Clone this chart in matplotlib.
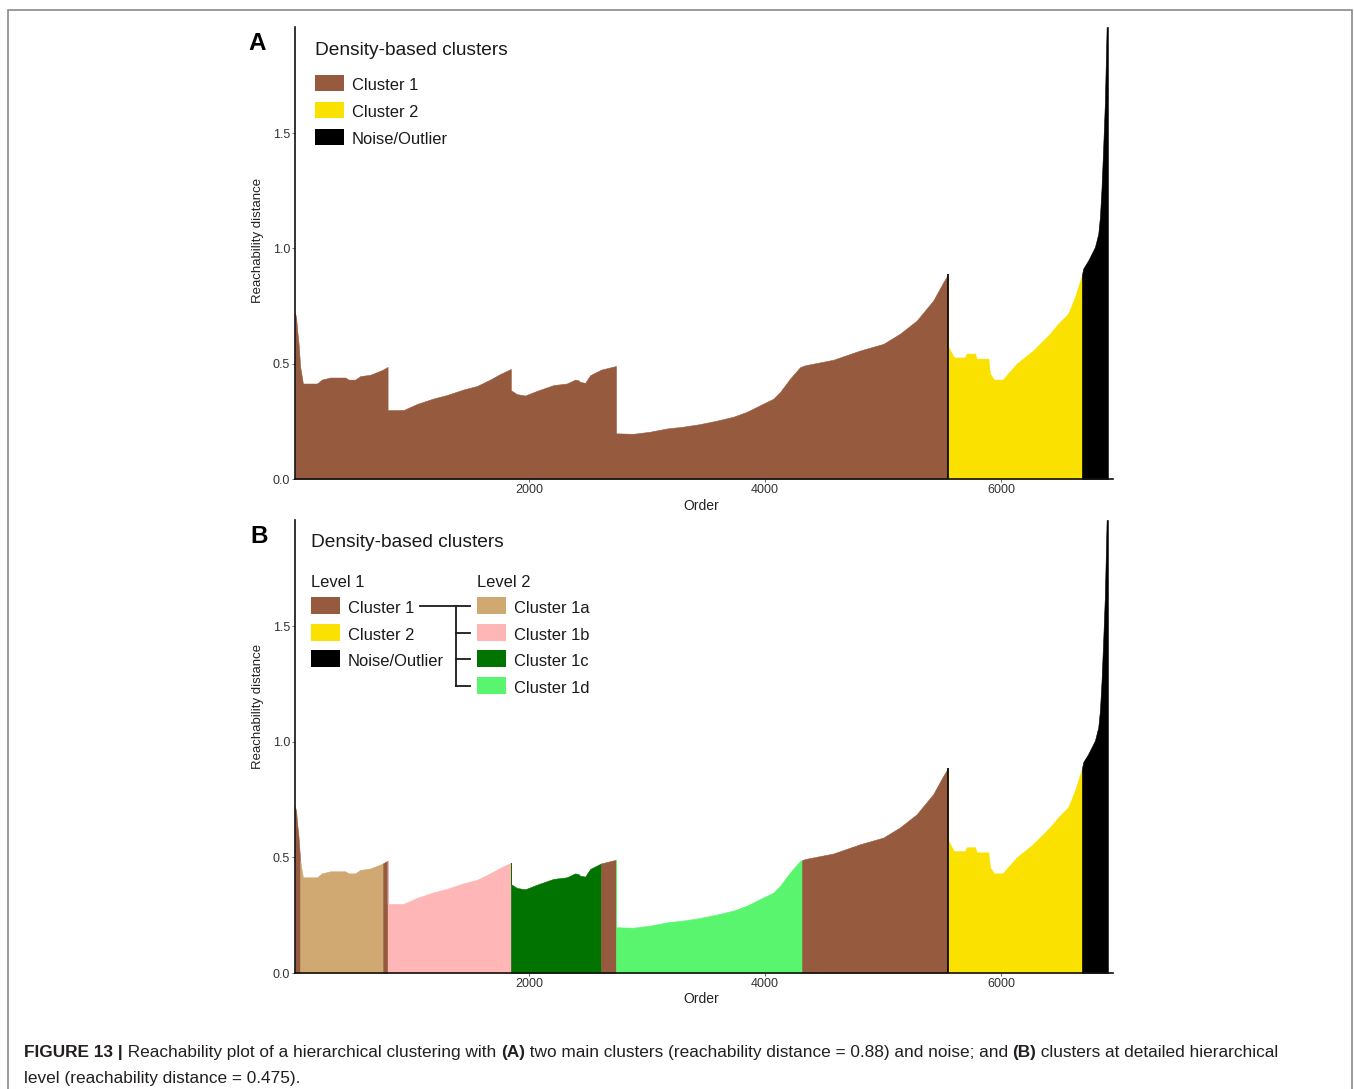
import numpy as np
import matplotlib
matplotlib.use("Agg")
import matplotlib.pyplot as plt
from matplotlib import font_manager
from matplotlib.patches import Rectangle
from matplotlib.lines import Line2D

# reachability profile (cluster order, reachability distance)
order = [15, 25, 31, 45, 59, 82, 201, 243, 314, 441, 469, 525, 568, 653, 737, 763,
         800, 800, 935, 1048, 1189, 1302, 1443, 1557, 1669, 1754,
         1845, 1845, 1896, 1966, 2065, 2206, 2319, 2390, 2418, 2432, 2475, 2517, 2602, 2610, 2729,
         2736, 2736, 2884, 3025, 3167, 3308, 3449, 3591, 3731, 3845, 3958, 4070, 4127, 4212, 4297,
         4314, 4339, 4579, 4805, 5003, 5144, 5286, 5426, 5511,
         5551, 5551, 5560, 5602, 5695, 5709, 5780, 5794, 5893, 5907, 5941, 6014, 6133, 6274,
         6415, 6486, 6570, 6627, 6686,
         6697, 6740, 6797, 6825, 6839, 6853, 6867, 6881, 6896, 6907]
reach = [0.72, 0.70, 0.657, 0.589, 0.486, 0.414, 0.414, 0.431, 0.44, 0.44, 0.431, 0.431, 0.446, 0.452, 0.469, 0.475,
         0.486, 0.299, 0.299, 0.325, 0.349, 0.364, 0.388, 0.403, 0.431, 0.455,
         0.477, 0.385, 0.368, 0.362, 0.382, 0.407, 0.414, 0.431, 0.428, 0.421, 0.417, 0.45, 0.472, 0.474, 0.489,
         0.49, 0.198, 0.196, 0.205, 0.219, 0.227, 0.238, 0.253, 0.27, 0.291, 0.32, 0.348, 0.377, 0.435, 0.485,
         0.488, 0.493, 0.517, 0.557, 0.586, 0.63, 0.687, 0.774, 0.853,
         0.887, 0.58, 0.566, 0.527, 0.527, 0.544, 0.544, 0.522, 0.522, 0.457, 0.431, 0.431, 0.50, 0.558,
         0.63, 0.674, 0.717, 0.789, 0.883,
         0.912, 0.948, 1.006, 1.063, 1.135, 1.265, 1.44, 1.63, 1.96, 1.96]

# panel A: level 1 clusters
lvl1_edges = [15, 5551, 6686, 6907]
lvl1_names = ["Cluster 1", "Cluster 2", "Noise/Outlier"]

# panel B: level 2 clusters
lvl2_edges = [15, 59, 763, 800, 1845, 2610, 2736, 4314, 5551, 6686, 6907]
lvl2_names = ["Cluster 1", "Cluster 1a", "Cluster 1", "Cluster 1b", "Cluster 1c",
              "Cluster 1", "Cluster 1d", "Cluster 1", "Cluster 2", "Noise/Outlier"]

colors = {"Cluster 1": "#965A3E", "Cluster 2": "#FAE100", "Noise/Outlier": "#000000",
          "Cluster 1a": "#CFA872", "Cluster 1b": "#FFB6B6", "Cluster 1c": "#007300",
          "Cluster 1d": "#5AF56F"}

legend_lvl1 = ["Cluster 1", "Cluster 2", "Noise/Outlier"]
legend_lvl2 = ["Cluster 1a", "Cluster 1b", "Cluster 1c", "Cluster 1d"]

x_ticks = [2000, 4000, 6000]
y_ticks = [0.0, 0.5, 1.0, 1.5]

W, H = 1354, 1089
available = {f.name for f in font_manager.fontManager.ttflist}
REG = "Liberation Sans"
NARROW = "Liberation Sans Narrow" if "Liberation Sans Narrow" in available else REG

fig = plt.figure(figsize=(W / 100, H / 100), dpi=100)
renderer = fig.canvas.get_renderer()


def width_px(s, size, family, weight="normal"):
    t = fig.text(0, 0, s, fontsize=size, family=family, weight=weight)
    w = t.get_window_extent(renderer).width
    t.remove()
    return w


def fit(s, target, family, weight="normal"):
    return 20 * target / width_px(s, 20, family, weight)


def put(x, y, s, size, family=NARROW, **kw):
    # x, y in pixels from top left, y is the baseline
    return fig.text(x / W, 1 - y / H, s, fontsize=size, family=family,
                    va="baseline", ha=kw.pop("ha", "left"), color=kw.pop("color", "#1a1a1a"), **kw)


def swatch(x0, y0, x1, y1, c):
    fig.patches.append(Rectangle((x0 / W, 1 - y1 / H), (x1 - x0) / W, (y1 - y0) / H,
                                 transform=fig.transFigure, facecolor=c, edgecolor="none"))


def fig_line(xs, ys):
    fig.lines.append(Line2D([x / W for x in xs], [1 - y / H for y in ys],
                            transform=fig.transFigure, color="#1a1a1a", lw=1.3))


def panel(ax, edges, names):
    o = np.array(order)
    r = np.array(reach)
    for a, b, name in zip(edges[:-1], edges[1:], names):
        m = (o >= a) & (o <= b)
        c = colors[name]
        ax.fill_between(o[m], 0, r[m], facecolor=c, edgecolor=c, linewidth=0.4)
    # boundary between cluster 1 and cluster 2
    b12 = lvl1_edges[1]
    ax.vlines(b12, 0, r[o == b12].max(), color="black", lw=1.2)
    ax.set_xlim(15, 6950)
    ax.set_ylim(0, 1.96)
    ax.set_xticks(x_ticks)
    ax.set_xticklabels([str(v) for v in x_ticks])
    ax.set_yticks(y_ticks)
    ax.set_yticklabels([f"{v:.1f}" for v in y_ticks])
    for s in ["top", "right"]:
        ax.spines[s].set_visible(False)
    for s in ["left", "bottom"]:
        ax.spines[s].set_linewidth(1.2)
        ax.spines[s].set_color("#111111")
    ax.tick_params(length=2.5, width=0.6, colors="#555555", labelcolor="#333333",
                   labelsize=9, pad=1)
    for lab in ax.get_xticklabels() + ax.get_yticklabels():
        lab.set_family(REG)
    ax.set_ylabel("Reachability distance", fontsize=9.5, family=REG, color="#222222")
    ax.set_xlabel("Order", fontsize=10, family=REG, color="#222222")
    ax.patch.set_alpha(0)


axA = fig.add_axes([295 / W, 1 - 479 / H, 818 / W, (479 - 27) / H])
panel(axA, lvl1_edges, lvl1_names)
axA.yaxis.set_label_coords(-0.038, (479 - 240) / 452)
axA.xaxis.set_label_coords((701 - 295) / 818, -(499 - 479) / 452)

axB = fig.add_axes([295 / W, 1 - 973 / H, 818 / W, (973 - 520) / H])
panel(axB, lvl2_edges, lvl2_names)
axB.yaxis.set_label_coords(-0.038, (973 - 706) / 453)
axB.xaxis.set_label_coords((701 - 295) / 818, -(992 - 973) / 453)

# panel letters
put(248, 50, "A", 17.5, family=REG, weight="bold", color="black")
put(250, 543, "B", 17.5, family=REG, weight="bold", color="black")

# legends
title_size = fit("Density-based clusters", 193, NARROW)
item_size = fit("Noise/Outlier", 95, NARROW)

put(315, 55, "Density-based clusters", title_size)
for i, name in enumerate(legend_lvl1):
    base = 90 + 27 * i
    swatch(315, base - 15, 344, base + 1, colors[name])
    put(352, base, name, item_size)

put(311, 547, "Density-based clusters", title_size)
put(311, 587, "Level 1", item_size)
put(477, 587, "Level 2", item_size)
for i, name in enumerate(legend_lvl1):
    base = 613 + 26.7 * i
    swatch(311, base - 16, 340, base + 1, colors[name])
    put(348, base, name, item_size)
for i, name in enumerate(legend_lvl2):
    base = 613 + 26.7 * i
    swatch(477, base - 16, 506, base + 1, colors[name])
    put(514, base, name, item_size)

# connector from Cluster 1 to its level 2 sub-clusters
fig_line([420, 470], [606, 606])
fig_line([456, 456], [606, 686])
for y in [632.5, 659, 686]:
    fig_line([456, 470], [y, y])

# caption
runs1 = [("FIGURE 13 |", "bold"), (" Reachability plot of a hierarchical clustering with ", "normal"),
         ("(A)", "bold"), (" two main clusters (reachability distance = 0.88) and noise; and ", "normal"),
         ("(B)", "bold"), (" clusters at detailed hierarchical", "normal")]
line2 = "level (reachability distance = 0.475)."


def run_width(s, size, weight):
    # measure with guard characters so that leading/trailing spaces count
    return width_px("x" + s + "x", size, NARROW, weight) - width_px("xx", size, NARROW, weight)


total = sum(run_width(s, 20, w) for s, w in runs1)
cap_size = 20 * 1246 / total
x = 24
for s, w in runs1:
    put(x, 1057, s, cap_size, weight=w, color="#231f20")
    x += run_width(s, cap_size, w)
put(24, 1083, line2, cap_size, color="#231f20")

# frame around the figure (open at the bottom)
fig.patches.append(Rectangle((8 / W, -0.05), (1352 - 8) / W, 1 - 10 / H + 0.05,
                             transform=fig.transFigure, facecolor="none",
                             edgecolor="#8a8a8a", linewidth=1.2))

fig.savefig("out.png", dpi=100)
